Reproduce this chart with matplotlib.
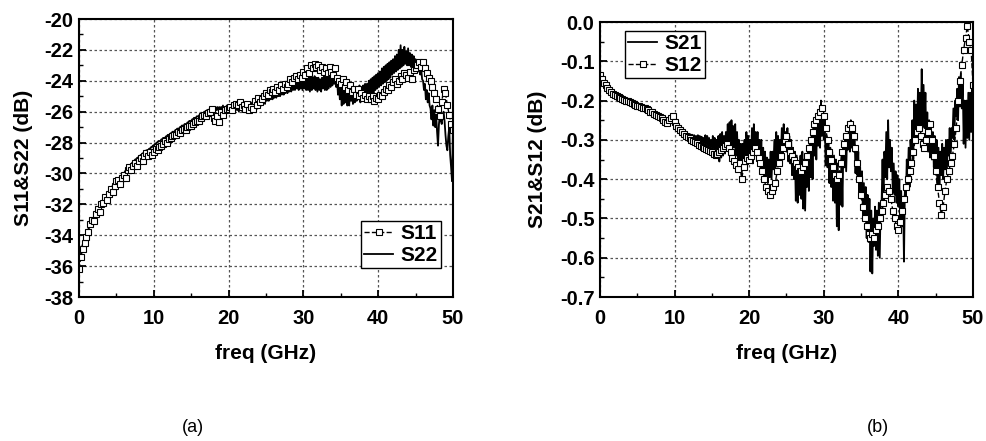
import matplotlib
matplotlib.use("Agg")
import matplotlib.pyplot as plt
import numpy as np
from matplotlib.ticker import MultipleLocator, FormatStrFormatter

plt.rcParams["font.family"] = ["Liberation Sans", "DejaVu Sans"]
plt.rcParams["axes.unicode_minus"] = False

# marker traces (S11, S12): 0.25 GHz steps, 0..50 GHz
s11 = [
    -36.2, -35.4, -34.9, -34.5, -34.1, -33.8, -33.3, -33.0, -33.1, -32.6, -32.3, -32.5,
    -32.0, -31.9, -31.5, -31.7, -31.3, -31.0, -31.2, -30.8, -30.5, -30.4, -30.7, -30.3,
    -30.1, -30.3, -29.8, -29.6, -29.8, -29.5, -29.3, -29.5, -29.2, -29.0, -29.2, -28.9,
    -28.7, -28.9, -28.6, -28.8, -28.6, -28.4, -28.5, -28.3, -28.2, -28.1, -27.9, -28.0,
    -27.8, -27.7, -27.6, -27.5, -27.5, -27.3, -27.4, -27.2, -27.1, -27.2, -27.0, -26.9,
    -26.9, -26.8, -26.7, -26.6, -26.6, -26.4, -26.3, -26.2, -26.3, -26.1, -26.0, -25.8,
    -26.4, -26.6, -26.3, -26.7, -26.0, -26.2, -25.9, -25.8, -25.8, -25.7, -25.9, -25.6,
    -25.5, -25.6, -25.4, -25.7, -25.6, -25.8, -25.5, -25.9, -25.7, -25.8, -25.3, -25.6,
    -25.1, -25.4, -25.2, -25.0, -24.8, -24.9, -24.6, -24.7, -24.5, -24.7, -24.4, -24.6,
    -24.3, -24.5, -24.2, -24.4, -24.2, -23.9, -24.1, -23.8, -23.7, -23.9, -23.6, -23.8,
    -23.4, -23.6, -23.2, -23.5, -23.0, -23.2, -22.9, -23.1, -23.0, -23.3, -23.1, -23.4,
    -23.2, -23.5, -23.1, -23.4, -23.6, -23.2, -23.8, -24.0, -24.2, -23.9, -24.4, -24.1,
    -24.6, -24.3, -24.7, -24.5, -24.9, -24.5, -25.0, -24.8, -25.1, -24.9, -25.2, -25.0,
    -25.2, -25.0, -25.3, -25.1, -25.2, -24.9, -25.0, -24.7, -24.5, -24.6, -24.3, -24.4,
    -24.1, -23.9, -24.2, -24.0, -23.7, -23.9, -23.5, -23.6, -23.8, -23.4, -23.9, -23.3,
    -23.2, -23.0, -22.8, -23.1, -22.8, -23.2, -23.5, -23.8, -24.0, -24.4, -24.8, -25.2,
    -25.8, -26.3, -25.4, -24.5, -24.8, -25.6, -26.2, -26.8, -27.2,
]
s12 = [
    -0.135, -0.145, -0.155, -0.160, -0.168, -0.172, -0.178, -0.182, -0.185, -0.188, -0.190, -0.194,
    -0.196, -0.198, -0.200, -0.202, -0.204, -0.206, -0.208, -0.211, -0.213, -0.214, -0.217, -0.219,
    -0.220, -0.222, -0.225, -0.228, -0.230, -0.233, -0.236, -0.239, -0.242, -0.245, -0.250, -0.254,
    -0.258, -0.250, -0.245, -0.240, -0.255, -0.265, -0.270, -0.275, -0.280, -0.285, -0.290, -0.293,
    -0.296, -0.300, -0.303, -0.306, -0.309, -0.312, -0.315, -0.318, -0.320, -0.322, -0.325, -0.328,
    -0.330, -0.335, -0.338, -0.335, -0.330, -0.325, -0.320, -0.315, -0.310, -0.320, -0.330, -0.345,
    -0.355, -0.365, -0.375, -0.360, -0.400, -0.370, -0.355, -0.345, -0.350, -0.340, -0.330, -0.320,
    -0.330, -0.345, -0.360, -0.380, -0.400, -0.420, -0.430, -0.440, -0.430, -0.420, -0.410, -0.380,
    -0.360, -0.340, -0.320, -0.300, -0.290, -0.310, -0.330, -0.340, -0.350, -0.360, -0.370, -0.380,
    -0.380, -0.370, -0.360, -0.340, -0.320, -0.300, -0.280, -0.260, -0.250, -0.240, -0.230, -0.220,
    -0.240, -0.270, -0.300, -0.330, -0.350, -0.370, -0.390, -0.400, -0.390, -0.360, -0.330, -0.310,
    -0.290, -0.270, -0.260, -0.270, -0.290, -0.320, -0.360, -0.400, -0.440, -0.470, -0.500, -0.520,
    -0.540, -0.550, -0.540, -0.550, -0.530, -0.520, -0.500, -0.480, -0.460, -0.440, -0.420, -0.430,
    -0.450, -0.480, -0.500, -0.520, -0.530, -0.510, -0.480, -0.450, -0.420, -0.400, -0.380, -0.360,
    -0.330, -0.300, -0.280, -0.270, -0.290, -0.310, -0.320, -0.300, -0.280, -0.260, -0.300, -0.340,
    -0.380, -0.420, -0.460, -0.490, -0.470, -0.430, -0.400, -0.380, -0.360, -0.340, -0.310, -0.270,
    -0.200, -0.150, -0.110, -0.070, -0.040, -0.010, -0.050, -0.070, -0.160,
]

# line traces (S22, S21): 0.125 GHz steps, 0..50 GHz, one row per GHz
s22 = [
    -35.5, -35.2, -35.0, -34.8, -34.6, -34.5, -34.3, -34.2,
    -34.0, -33.8, -33.6, -33.5, -33.4, -33.2, -33.1, -33.0,
    -32.9, -32.8, -32.7, -32.5, -32.4, -32.3, -32.2, -32.1,
    -32.0, -31.9, -31.8, -31.7, -31.6, -31.5, -31.4, -31.3,
    -31.2, -31.1, -31.0, -30.9, -30.8, -30.8, -30.7, -30.6,
    -30.6, -30.5, -30.4, -30.3, -30.2, -30.2, -30.1, -30.0,
    -30.0, -29.9, -29.8, -29.7, -29.7, -29.6, -29.5, -29.5,
    -29.4, -29.3, -29.3, -29.2, -29.1, -29.1, -29.0, -29.0,
    -28.9, -28.9, -28.8, -28.8, -28.7, -28.7, -28.6, -28.6,
    -28.5, -28.5, -28.5, -28.4, -28.4, -28.3, -28.3, -28.2,
    -28.2, -28.1, -28.1, -28.0, -28.0, -27.9, -27.9, -27.9,
    -27.8, -27.8, -27.7, -27.7, -27.7, -27.6, -27.6, -27.5,
    -27.5, -27.5, -27.4, -27.4, -27.3, -27.3, -27.3, -27.2,
    -27.2, -27.1, -27.1, -27.1, -27.0, -27.0, -26.9, -26.9,
    -26.9, -26.8, -26.8, -26.8, -26.7, -26.7, -26.6, -26.6,
    -26.6, -26.5, -26.5, -26.4, -26.4, -26.4, -26.3, -26.3,
    -26.3, -26.2, -26.2, -26.1, -26.1, -26.1, -26.0, -26.0,
    -26.0, -25.9, -26.0, -25.9, -25.8, -25.9, -25.8, -25.8,
    -25.7, -25.9, -25.7, -25.9, -25.7, -25.9, -25.7, -25.8,
    -25.7, -25.9, -25.6, -25.9, -25.7, -25.9, -25.6, -25.8,
    -25.6, -25.9, -25.6, -25.8, -25.5, -25.8, -25.5, -25.9,
    -25.5, -25.9, -25.5, -26.0, -25.5, -25.9, -25.6, -26.0,
    -25.5, -26.0, -25.6, -26.0, -25.5, -26.0, -25.6, -25.9,
    -25.4, -25.9, -25.5, -25.9, -25.3, -25.8, -25.4, -25.8,
    -25.2, -25.7, -25.2, -25.6, -25.0, -25.5, -25.1, -25.5,
    -24.8, -25.3, -24.7, -25.3, -24.8, -25.2, -24.7, -25.2,
    -24.6, -25.1, -24.5, -25.1, -24.6, -25.0, -24.5, -25.0,
    -24.4, -24.9, -24.3, -24.9, -24.4, -24.8, -24.3, -24.8,
    -24.2, -24.7, -24.1, -24.7, -24.2, -24.6, -24.0, -24.6,
    -23.9, -24.5, -23.8, -24.6, -23.9, -24.5, -23.8, -24.6,
    -23.8, -24.5, -23.7, -24.6, -23.8, -24.6, -23.7, -24.7,
    -23.7, -24.6, -23.8, -24.5, -23.7, -24.6, -23.8, -24.7,
    -23.8, -24.6, -23.9, -24.7, -23.8, -24.5, -23.7, -24.6,
    -23.7, -24.6, -23.6, -24.5, -23.6, -24.4, -23.5, -24.3,
    -23.4, -24.2, -23.6, -24.4, -23.8, -24.9, -24.2, -25.2,
    -24.3, -25.6, -24.5, -25.5, -24.3, -25.4, -24.6, -25.6,
    -24.7, -25.6, -24.5, -25.3, -24.4, -25.5, -24.6, -25.4,
    -24.5, -25.3, -24.4, -25.2, -24.3, -25.4, -24.5, -25.2,
    -24.3, -25.1, -24.2, -25.3, -24.2, -25.0, -24.0, -24.9,
    -23.9, -24.8, -23.8, -24.9, -23.7, -24.6, -23.6, -24.5,
    -23.5, -24.4, -23.4, -24.3, -23.2, -24.2, -23.1, -24.1,
    -23.0, -24.0, -22.9, -23.9, -22.8, -23.8, -22.7, -23.6,
    -22.6, -23.5, -22.4, -23.4, -22.3, -23.3, -22.0, -23.2,
    -21.7, -23.1, -22.0, -23.0, -21.8, -22.9, -22.1, -23.0,
    -21.9, -23.0, -22.2, -23.1, -22.3, -23.2, -22.4, -23.1,
    -22.6, -23.3, -22.7, -23.4, -22.9, -23.6, -23.2, -23.9,
    -24.0, -24.6, -24.2, -25.2, -24.6, -25.4, -24.8, -25.6,
    -25.8, -26.5, -25.6, -26.9, -25.9, -27.0, -26.2, -27.3,
    -28.2, -26.8, -26.2, -26.6, -26.8, -26.2, -26.0, -26.6,
    -27.5, -28.2, -28.5, -27.6, -27.0, -28.8, -29.6, -30.5,
    -27.0,
]
s21 = [
    -0.140, -0.145, -0.150, -0.155, -0.160, -0.163, -0.166, -0.168,
    -0.170, -0.173, -0.175, -0.177, -0.179, -0.181, -0.183, -0.185,
    -0.186, -0.188, -0.189, -0.191, -0.192, -0.194, -0.195, -0.196,
    -0.197, -0.198, -0.199, -0.200, -0.201, -0.202, -0.203, -0.204,
    -0.205, -0.206, -0.207, -0.208, -0.209, -0.210, -0.211, -0.212,
    -0.213, -0.214, -0.215, -0.216, -0.217, -0.218, -0.219, -0.220,
    -0.221, -0.222, -0.223, -0.225, -0.226, -0.228, -0.229, -0.231,
    -0.232, -0.233, -0.234, -0.236, -0.237, -0.239, -0.240, -0.242,
    -0.243, -0.245, -0.246, -0.248, -0.249, -0.251, -0.252, -0.254,
    -0.255, -0.257, -0.258, -0.256, -0.255, -0.252, -0.250, -0.255,
    -0.262, -0.265, -0.268, -0.270, -0.272, -0.274, -0.276, -0.278,
    -0.280, -0.282, -0.283, -0.285, -0.287, -0.284, -0.285, -0.289,
    -0.290, -0.286, -0.292, -0.287, -0.295, -0.288, -0.298, -0.290,
    -0.300, -0.288, -0.302, -0.290, -0.305, -0.292, -0.310, -0.295,
    -0.310, -0.288, -0.318, -0.290, -0.320, -0.295, -0.325, -0.300,
    -0.330, -0.290, -0.335, -0.295, -0.340, -0.300, -0.345, -0.290,
    -0.355, -0.285, -0.345, -0.280, -0.340, -0.290, -0.335, -0.280,
    -0.320, -0.260, -0.325, -0.255, -0.330, -0.250, -0.320, -0.265,
    -0.320, -0.260, -0.340, -0.280, -0.350, -0.300, -0.380, -0.310,
    -0.390, -0.310, -0.365, -0.300, -0.370, -0.280, -0.340, -0.290,
    -0.350, -0.300, -0.355, -0.270, -0.360, -0.260, -0.320, -0.280,
    -0.330, -0.280, -0.365, -0.300, -0.370, -0.300, -0.380, -0.320,
    -0.390, -0.330, -0.405, -0.345, -0.410, -0.350, -0.395, -0.330,
    -0.400, -0.330, -0.375, -0.300, -0.380, -0.280, -0.350, -0.290,
    -0.360, -0.300, -0.345, -0.270, -0.350, -0.260, -0.320, -0.280,
    -0.330, -0.270, -0.355, -0.290, -0.360, -0.300, -0.390, -0.320,
    -0.400, -0.330, -0.455, -0.340, -0.460, -0.360, -0.440, -0.340,
    -0.450, -0.330, -0.475, -0.350, -0.480, -0.350, -0.420, -0.320,
    -0.430, -0.300, -0.395, -0.290, -0.400, -0.270, -0.340, -0.260,
    -0.350, -0.240, -0.315, -0.230, -0.320, -0.200, -0.290, -0.230,
    -0.300, -0.250, -0.365, -0.290, -0.370, -0.300, -0.410, -0.320,
    -0.420, -0.330, -0.455, -0.340, -0.460, -0.350, -0.520, -0.360,
    -0.530, -0.380, -0.465, -0.340, -0.470, -0.320, -0.370, -0.290,
    -0.380, -0.290, -0.325, -0.260, -0.330, -0.250, -0.320, -0.270,
    -0.330, -0.280, -0.385, -0.320, -0.390, -0.330, -0.440, -0.370,
    -0.450, -0.380, -0.495, -0.410, -0.500, -0.420, -0.550, -0.440,
    -0.560, -0.450, -0.635, -0.480, -0.640, -0.500, -0.570, -0.470,
    -0.580, -0.480, -0.595, -0.460, -0.600, -0.460, -0.460, -0.350,
    -0.470, -0.330, -0.395, -0.280, -0.400, -0.250, -0.370, -0.300,
    -0.380, -0.320, -0.435, -0.360, -0.440, -0.380, -0.460, -0.390,
    -0.470, -0.400, -0.515, -0.430, -0.520, -0.450, -0.610, -0.420,
    -0.450, -0.350, -0.415, -0.320, -0.420, -0.300, -0.340, -0.250,
    -0.350, -0.200, -0.295, -0.210, -0.300, -0.170, -0.270, -0.180,
    -0.280, -0.120, -0.265, -0.160, -0.270, -0.180, -0.320, -0.230,
    -0.330, -0.250, -0.345, -0.270, -0.350, -0.280, -0.370, -0.290,
    -0.380, -0.300, -0.415, -0.320, -0.420, -0.330, -0.390, -0.310,
    -0.400, -0.320, -0.375, -0.300, -0.380, -0.300, -0.340, -0.270,
    -0.350, -0.270, -0.295, -0.220, -0.300, -0.200, -0.240, -0.170,
    -0.250, -0.140, -0.215, -0.130, -0.220, -0.150, -0.310, -0.200,
    -0.320, -0.200, -0.295, -0.180, -0.300, -0.180, -0.280, -0.160,
    -0.250,
]
freq_m = np.linspace(0, 50, len(s11))
freq_l = np.linspace(0, 50, len(s22))

marker_kw = dict(marker="s", markersize=5, markerfacecolor="white",
                 markeredgecolor="black", markeredgewidth=0.8)
bold = {"weight": "bold", "size": 15}


def style_axes(ax, ylim, ymajor, yminor, yfmt, ylabel, ylabelpad):
    ax.set_xlim(0, 50)
    ax.set_ylim(*ylim)
    ax.xaxis.set_major_locator(MultipleLocator(10))
    ax.xaxis.set_minor_locator(MultipleLocator(5))
    ax.yaxis.set_major_locator(MultipleLocator(ymajor))
    ax.yaxis.set_minor_locator(MultipleLocator(yminor))
    ax.yaxis.set_major_formatter(FormatStrFormatter(yfmt))
    ax.tick_params(which="major", direction="in", length=5, width=1.3,
                   labelsize=14.5, top=False, right=False)
    ax.tick_params(axis="x", which="major", pad=8.5)
    ax.tick_params(axis="y", which="major", pad=4)
    ax.tick_params(which="minor", direction="in", length=3, width=1.0,
                   top=False, right=False)
    for lab in ax.get_xticklabels() + ax.get_yticklabels():
        lab.set_fontweight("bold")
    for sp in ax.spines.values():
        sp.set_linewidth(1.5)
    ax.grid(True, which="major", color="#555555", linestyle=(0, (2, 2)), linewidth=0.9)
    ax.set_axisbelow(True)
    ax.set_xlabel("freq (GHz)", fontsize=15, fontweight="bold", labelpad=12)
    ax.set_ylabel(ylabel, fontsize=15, fontweight="bold", labelpad=ylabelpad)


def add_legend(ax, handles, anchor):
    leg = ax.legend(handles=handles, loc="upper left", bbox_to_anchor=anchor,
                    prop=bold, frameon=True, fancybox=False, edgecolor="black",
                    framealpha=1, borderpad=0.15, handlelength=1.4,
                    handletextpad=0.35, labelspacing=0.15, borderaxespad=0)
    leg.get_frame().set_linewidth(1.0)


fig = plt.figure(figsize=(9.86, 4.41), dpi=100)

# (a) S11 / S22
ax1 = fig.add_axes([0.0801, 0.3265, 0.3793, 0.6304])
l22, = ax1.plot(freq_l, s22, color="black", linewidth=1.3, label="S22")
l11, = ax1.plot(freq_m, s11, color="black", linestyle="--", linewidth=1.0, label="S11", **marker_kw)
style_axes(ax1, (-38, -20), 2, 1, "%d", "S11&S22 (dB)", 8)
add_legend(ax1, [l11, l22], (0.754, 0.273))

# (b) S21 / S12
ax2 = fig.add_axes([0.6085, 0.3265, 0.3783, 0.6236])
l21, = ax2.plot(freq_l, s21, color="black", linewidth=1.3, label="S21")
l12, = ax2.plot(freq_m, s12, color="black", linestyle="--", linewidth=1.0, label="S12", **marker_kw)
style_axes(ax2, (-0.7, 0.0), 0.1, 0.05, "%.1f", "S21&S12 (dB)", 9)
add_legend(ax2, [l21, l12], (0.067, 0.967))

fig.text(193 / 986, 1 - 427 / 441, "(a)", fontsize=13, ha="center", va="center")
fig.text(878 / 986, 1 - 427 / 441, "(b)", fontsize=13, ha="center", va="center")

fig.savefig("out.png", dpi=100)
plt.close(fig)
